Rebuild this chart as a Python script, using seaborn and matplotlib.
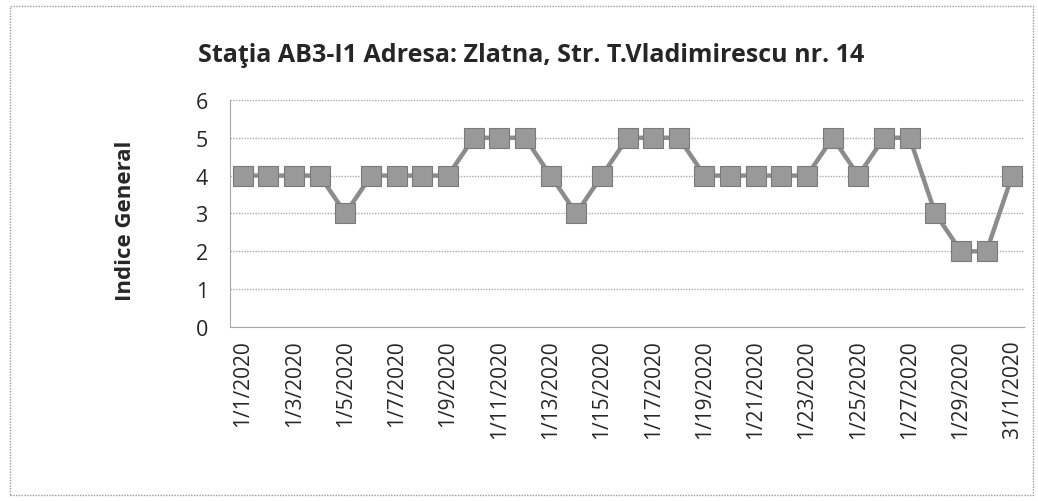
import pandas as pd
import seaborn as sns
import matplotlib.pyplot as plt
from matplotlib.patches import Rectangle

# Data (January 2020, one value per day)
days = list(range(1, 32))
indice = [4, 4, 4, 4, 3, 4, 4, 4, 4, 5, 5, 5, 4, 3, 4, 5,
          5, 5, 4, 4, 4, 4, 4, 5, 4, 5, 5, 3, 2, 2, 4]
tick_days = list(range(1, 31, 2)) + [31]
tick_labels = [f"1/{d}/2020" for d in range(1, 31, 2)] + ["31/1/2020"]

df = pd.DataFrame({"pos": [d - 1 for d in days], "Indice": indice})

sns.set_style("white")
plt.rcParams['font.family'] = ['Open Sans', 'DejaVu Sans']

fig = plt.figure(figsize=(10.38, 5.02), dpi=100)
ax = fig.add_axes([0.2216, 0.3466, 0.7659, 0.4524])

sns.lineplot(data=df, x="pos", y="Indice", ax=ax, color="#8c8c8c",
             linewidth=3.2, marker="s", markersize=14.5,
             markerfacecolor="#999999", markeredgecolor="#7a7a7a",
             markeredgewidth=0.8)

ax.set_xlim(-0.5, 30.5)
ax.set_ylim(0, 6)
ax.set_yticks(range(0, 7))
ax.tick_params(axis="y", labelsize=15.5, length=0, pad=16)
ax.set_xticks([d - 1 for d in tick_days])
ax.set_xticklabels(tick_labels, rotation=90, fontsize=15)
ax.set_xticks([i + 0.5 for i in range(-1, 31)], minor=True)
ax.tick_params(axis="x", which="major", length=0, pad=9)
ax.tick_params(axis="x", which="minor", length=4, color="#aaaaaa", direction="out")
ax.grid(axis="y", color="#aaaaaa", linestyle=(0, (1, 1)), linewidth=1)
for side in ["top", "right"]:
    ax.spines[side].set_visible(False)
ax.spines["left"].set_color("#aaaaaa")
ax.spines["left"].set_linestyle((0, (1, 1)))
ax.spines["bottom"].set_color("#aaaaaa")
ax.spines["bottom"].set_linestyle((0, (1, 1)))

ax.set_xlabel("")
ax.set_ylabel("Indice General", fontsize=16, fontweight="bold")
ax.yaxis.set_label_coords(-0.118, 0.474)
fig.text(0.512, 0.89, "Staţia AB3-I1 Adresa: Zlatna, Str. T.Vladimirescu nr. 14",
         ha="center", va="center", fontsize=18, fontweight="bold")

# dotted frame around the chart area
fig.patches.append(Rectangle((0.01, 0.012), 0.985, 0.975, transform=fig.transFigure,
                             fill=False, edgecolor="#999999", linestyle=(0, (1, 1)),
                             linewidth=1))

plt.savefig("out.png", dpi=100)
